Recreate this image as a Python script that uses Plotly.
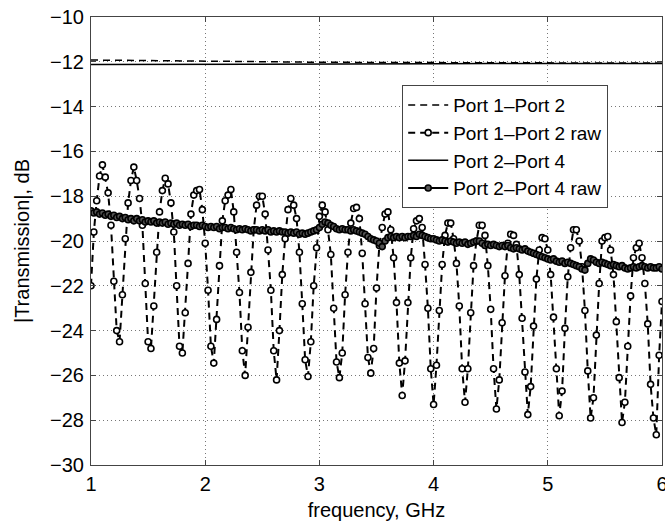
import numpy as np
import plotly.graph_objects as go

# Frequency sweep (GHz): 201 points from 1 to 6 GHz
f_start, f_stop, n_pts = 1.0, 6.0, 201
freq_raw = np.linspace(f_start, f_stop, n_pts)

# Smoothed (calibrated) curves, sampled every 0.5 GHz
freq_smooth = [1.0, 1.5, 2.0, 2.5, 3.0, 3.5, 4.0, 4.5, 5.0, 5.5, 6.0]
p12 = [-11.92, -11.95, -11.98, -12.0, -12.02, -12.03, -12.04, -12.05, -12.05, -12.06, -12.06]
p24 = [-12.12, -12.12, -12.11, -12.1, -12.1, -12.09, -12.09, -12.08, -12.08, -12.08, -12.08]

# Port 1-Port 2 raw (dB)
p12_raw = [
    -22.0, -19.6, -18.2, -17.1, -16.6, -17.15, -17.85, -19.3, -21.8, -24.0,
    -24.5, -22.4, -19.9, -18.3, -17.3, -16.7, -17.3, -18.1, -19.3, -21.9,
    -24.5, -24.8, -22.9, -20.5, -18.7, -17.75, -17.2, -17.45, -18.3, -19.6,
    -22.0, -24.7, -25.0, -23.2, -21.0, -18.8, -17.95, -17.75, -17.7, -18.6,
    -20.1, -22.2, -24.7, -25.45, -23.5, -21.1, -19.1, -18.2, -17.95, -17.7,
    -18.7, -20.5, -22.3, -24.9, -26.0, -23.85, -21.4, -19.5, -18.4, -18.0,
    -18.0, -18.8, -20.4, -22.2, -24.9, -26.2, -24.0, -21.5, -19.9, -18.6,
    -18.1, -18.4, -19.0, -20.5, -22.8, -25.3, -26.05, -24.5, -22.0, -20.3,
    -18.9, -18.4, -18.7, -19.5, -20.6, -23.0, -25.4, -26.1, -25.0, -22.4,
    -20.5, -19.2, -18.55, -18.5, -19.0, -20.55, -22.8, -25.2, -25.9, -24.8,
    -22.1, -20.2, -19.4, -18.8, -18.7, -19.5, -20.75, -22.75, -25.45, -26.9,
    -25.35, -22.75, -20.75, -19.45, -19.1, -19.0, -19.4, -21.05, -23.0, -25.7,
    -27.3, -25.55, -23.1, -21.05, -19.75, -19.2, -19.2, -19.9, -21.0, -22.9,
    -25.7, -27.2, -25.7, -23.2, -21.1, -20.0, -19.3, -19.3, -19.75, -21.1,
    -23.05, -25.7, -27.5, -26.2, -23.65, -21.55, -20.1, -19.7, -19.75, -20.15,
    -21.5, -23.45, -25.85, -27.75, -26.5, -23.8, -21.7, -20.4, -19.85, -19.9,
    -20.4, -21.5, -23.4, -25.7, -27.8, -26.7, -23.9, -21.6, -20.3, -19.5,
    -19.5, -20.0, -21.15, -23.1, -25.8, -27.9, -27.0, -24.2, -21.9, -20.0,
    -19.85, -19.8, -20.4, -21.5, -23.6, -26.1, -28.1, -27.2, -24.7, -22.45,
    -20.75, -20.3, -20.1, -20.75, -21.9, -23.7, -26.4, -27.9, -28.65, -25.1,
    -22.7,
]

# Port 2-Port 4 raw (dB)
p24_raw = [
    -18.65, -18.75, -18.7, -18.8, -18.75, -18.85, -18.8, -18.9, -18.85, -18.95,
    -18.9, -19.0, -18.95, -19.05, -19.0, -19.1, -19.0, -19.1, -19.05, -19.15,
    -19.1, -19.15, -19.1, -19.2, -19.15, -19.2, -19.15, -19.25, -19.2, -19.25,
    -19.2, -19.3, -19.25, -19.3, -19.25, -19.35, -19.3, -19.3, -19.35, -19.3,
    -19.35, -19.4, -19.35, -19.4, -19.35, -19.45, -19.4, -19.4, -19.45, -19.4,
    -19.45, -19.5, -19.45, -19.5, -19.45, -19.5, -19.55, -19.5, -19.5, -19.55,
    -19.5, -19.55, -19.5, -19.6, -19.55, -19.6, -19.55, -19.6, -19.6, -19.65,
    -19.6, -19.65, -19.6, -19.7, -19.65, -19.7, -19.65, -19.6, -19.55, -19.5,
    -19.4, -19.25, -19.15, -19.2, -19.3, -19.35, -19.45, -19.5, -19.45, -19.5,
    -19.5, -19.55, -19.5, -19.55, -19.6, -19.65, -19.7, -19.8, -19.9, -19.95,
    -20.0, -20.1, -20.25, -20.0, -19.85, -19.8, -19.85, -19.8, -19.85, -19.8,
    -19.85, -19.8, -19.8, -19.75, -19.8, -19.7, -19.75, -19.8, -19.85, -19.9,
    -19.9, -19.95, -20.0, -19.95, -20.0, -20.05, -20.0, -20.05, -20.1, -20.05,
    -20.1, -20.05, -20.15, -20.1, -20.05, -20.0, -20.0, -20.1, -20.2, -20.15,
    -20.2, -20.15, -20.2, -20.25, -20.2, -20.25, -20.2, -20.3, -20.35, -20.3,
    -20.35, -20.4, -20.35, -20.45, -20.5, -20.55, -20.6, -20.65, -20.7, -20.75,
    -20.8, -20.85, -20.8, -20.9, -20.95, -20.9, -21.0, -20.95, -21.0, -21.05,
    -21.1, -21.15, -21.25, -21.3, -21.0, -20.8, -20.85, -20.95, -21.0, -20.95,
    -21.0, -21.05, -21.1, -21.05, -21.1, -21.15, -21.1, -21.2, -21.25, -21.2,
    -21.15, -21.2, -21.15, -21.1, -21.15, -21.2, -21.15, -21.2, -21.2, -21.15,
    -21.25,
]

x_ticks = [1, 2, 3, 4, 5, 6]
y_ticks = [-30, -28, -26, -24, -22, -20, -18, -16, -14, -12, -10]

FONT = "Liberation Sans, Arial, Helvetica, sans-serif"

fig = go.Figure()
fig.add_trace(go.Scatter(
    x=freq_smooth, y=p12, mode="lines", name="Port 1\u2013Port 2",
    line=dict(color="black", width=1.5, dash="7px,5px"),
))
fig.add_trace(go.Scatter(
    x=freq_raw, y=p12_raw, mode="lines+markers", name="Port 1\u2013Port 2 raw",
    line=dict(color="black", width=2, dash="7px,5px"),
    marker=dict(symbol="circle", size=6, color="white",
                line=dict(color="black", width=1.6)),
))
fig.add_trace(go.Scatter(
    x=freq_smooth, y=p24, mode="lines", name="Port 2\u2013Port 4",
    line=dict(color="black", width=1.5),
))
fig.add_trace(go.Scatter(
    x=freq_raw, y=p24_raw, mode="lines+markers", name="Port 2\u2013Port 4 raw",
    line=dict(color="black", width=2),
    marker=dict(symbol="circle", size=6, color="#555555",
                line=dict(color="black", width=1.6)),
))

axis_common = dict(
    showline=True, linecolor="#444", linewidth=1, mirror="ticks",
    ticks="inside", ticklen=5, tickcolor="#444",
    showgrid=True, gridcolor="#777", griddash="1px,3px", gridwidth=1,
    zeroline=False, automargin=False, ticklabeloverflow="allow",
    tickfont=dict(family=FONT, size=20, color="black"),
)

fig.update_layout(
    width=665, height=521,
    margin=dict(l=91, r=3, t=17, b=56),
    paper_bgcolor="white", plot_bgcolor="white",
    font=dict(family=FONT, size=19, color="black"),
    xaxis=dict(range=[1, 6], tickvals=x_ticks, ticklabelstandoff=1,
               title=dict(text="frequency, GHz", font=dict(family=FONT, size=20)),
               **axis_common),
    yaxis=dict(range=[-30, -10], tickvals=y_ticks, ticklabelstandoff=2,
               title=dict(text="|Transmission|, dB", font=dict(family=FONT, size=20)),
               **axis_common),
    legend=dict(x=0.545, y=0.848, xanchor="left", yanchor="top",
                bgcolor="white", bordercolor="#444", borderwidth=1,
                font=dict(family=FONT, size=19), tracegroupgap=0,
                itemwidth=40),
    showlegend=True,
)

fig.write_html(
    "out.html",
    config={"displayModeBar": False},
    post_script="document.body.style.margin='0';document.body.style.padding='0';",
)
